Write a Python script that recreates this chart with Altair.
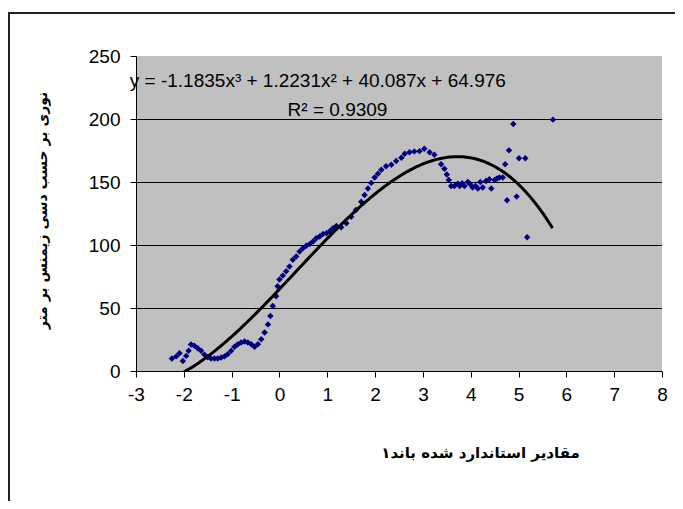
import altair as alt
import pandas as pd

# Scatter data
x_vals = [-2.25, -2.16, -2.09, -2.02, -1.95, -1.90, -1.85, -1.78, -1.71, -1.64,
          -1.57, -1.50, -1.43, -1.36, -1.29, -1.22, -1.15, -1.08, -1.01, -0.94,
          -0.87, -0.80, -0.73, -0.66, -0.59, -0.52, -0.45, -0.38, -0.31, -0.24,
          -0.19, -0.14, -0.07, -0.04, 0.00, 0.07, 0.14, 0.21, 0.28, 0.35,
          0.42, 0.49, 0.56, 0.63, 0.70, 0.77, 0.84, 0.91, 0.98,
          1.05, 1.12, 1.19, 1.29, 1.40, 1.50, 1.60, 1.71, 1.78, 1.85,
          1.92, 1.99, 2.06, 2.13, 2.23, 2.34, 2.44, 2.55, 2.62, 2.72,
          2.82, 2.93, 3.03, 3.14, 3.24,
          3.38, 3.45, 3.50, 3.54, 3.59, 3.66, 3.73, 3.77, 3.82, 3.87,
          3.94, 3.99, 4.04, 4.10, 4.15, 4.20, 4.25, 4.32, 4.39, 4.43,
          4.50, 4.55, 4.60, 4.67, 4.72, 4.76, 4.80, 4.89, 4.96, 5.01,
          5.14, 5.18, 5.72]
y_vals = [10, 11.6, 14, 8, 12, 16, 21, 20, 18, 16,
          13, 11, 10, 10, 10, 10.8, 11.6, 13.4, 16, 19.2,
          21.3, 22.6, 23.4, 22.6, 21.3, 19.2, 21.3, 25.2, 30.5, 37,
          43.6, 51.5, 59.4, 67.3, 72.6, 75.7, 79.1, 83, 88.3, 90.9,
          94.9, 97.5, 99.4, 100.7, 102.8, 105.4, 106.7, 108.8, 109.4,
          111, 113.3, 115.1, 114, 117.3, 122.5, 127.8, 134.3, 139.6, 144.9,
          149.3, 153.5, 156.6, 159.8, 162.5, 163.7, 166.6, 169.3, 172.4, 173.7,
          174.3, 174.5, 176.4, 173.7, 171.7,
          164, 160.6, 156, 151.6, 146.8, 146.8, 148.7, 146.8, 149, 146.8,
          150, 148.2, 145.6, 146.8, 144.8, 150, 145.6, 150.8, 152.1, 144.8,
          151.6, 152.7, 153.5, 153.5, 164, 135.5, 175.1, 196.1, 138.4, 168.8,
          168.8, 106.2, 199.5]

# Trendline coefficients as printed on the chart (c3, c2, c1, c0)
trend_coef = [-1.1835, 1.2231, 40.087, 64.976]
trend_extent = [-2.25, 5.72]

x_ticks = [-3, -2, -1, 0, 1, 2, 3, 4, 5, 6, 7, 8]
y_ticks = [0, 50, 100, 150, 200, 250]
grid_levels = [50, 100, 150, 200]

eq_text = ["y = -1.1835x³ + 1.2231x² + 40.087x + 64.976"]
r2_text = ["R² = 0.9309"]

x_title = "مقادیر استاندارد شده باند۱"
y_title = "نوری بر حسب دسی زیمنس بر متر"

df = pd.DataFrame({"x": x_vals, "y": y_vals})
grid_df = pd.DataFrame({"g": grid_levels})

FONT = "Liberation Sans"
PFONT = "DejaVu Sans"

xscale = alt.Scale(domain=[-3, 8], nice=False, zero=False)
yscale = alt.Scale(domain=[0, 250], nice=False)

xaxis = alt.Axis(values=x_ticks, grid=False, domainColor="black", domainWidth=1,
                 tickColor="black", tickSize=6, labelFont=FONT, labelFontSize=19,
                 labelColor="black", labelPadding=8, title=x_title,
                 labelExpr="'' + datum.value",
                 titleFont=PFONT, titleFontSize=15, titleFontWeight="bold",
                 titleColor="black", titleX=344, titleY=81, titleBaseline="middle",
                 titleAnchor="start", titleAlign="center", labelFlush=False)
yaxis = alt.Axis(values=y_ticks, grid=False, domainColor="black", domainWidth=1,
                 tickColor="black", tickSize=6, labelFont=FONT, labelFontSize=19,
                 labelColor="black", labelPadding=10, title=y_title,
                 labelExpr="'' + datum.value",
                 titleFont=PFONT, titleFontSize=14, titleFontWeight="bold",
                 titleColor="black", titleX=-94, titleY=210 - 56, titleAngle=-90,
                 titleAlign="center", titleBaseline="middle", labelFlush=False)

base = alt.Chart(df)

grid = alt.Chart(grid_df).mark_rule(color="black", strokeWidth=1, yOffset=0.5).encode(
    y=alt.Y("g:Q", scale=yscale, axis=yaxis)
)

points = base.mark_point(shape="diamond", filled=True, color="#000080",
                         size=42, opacity=1).encode(
    x=alt.X("x:Q", scale=xscale, axis=xaxis),
    y=alt.Y("y:Q", scale=yscale, axis=yaxis),
)

c3, c2, c1, c0 = trend_coef
trend = alt.Chart(alt.sequence(trend_extent[0], trend_extent[1] + 0.001, 0.04, as_="x")).transform_calculate(
    y=f"{c3}*pow(datum.x,3) + {c2}*pow(datum.x,2) + {c1}*datum.x + {c0}"
).mark_line(color="black", strokeWidth=3, clip=True).encode(
    x=alt.X("x:Q", scale=xscale),
    y=alt.Y("y:Q", scale=yscale),
)

eq = alt.Chart(pd.DataFrame({"t": eq_text, "x": [-3.13], "y": [230.5]})).mark_text(
    font=FONT, fontSize=19, align="left", baseline="middle", color="black"
).encode(x=alt.X("x:Q", scale=xscale), y=alt.Y("y:Q", scale=yscale), text="t:N")

r2 = alt.Chart(pd.DataFrame({"t": r2_text, "x": [0.17], "y": [207.5]})).mark_text(
    font=FONT, fontSize=19, align="left", baseline="middle", color="black"
).encode(x=alt.X("x:Q", scale=xscale), y=alt.Y("y:Q", scale=yscale), text="t:N")

frame_left = alt.Chart(pd.DataFrame({"a": [0]})).mark_rule(
    color="#222222", strokeWidth=2, clip=False
).encode(x=alt.value(-127), y=alt.value(-43), y2=alt.value(480))
frame_top = alt.Chart(pd.DataFrame({"a": [0]})).mark_rule(
    color="#222222", strokeWidth=2, clip=False
).encode(x=alt.value(-128), x2=alt.value(560), y=alt.value(-43))

chart = alt.layer(grid, points, trend, eq, r2, frame_left, frame_top).properties(
    width=526, height=315,
    autosize=alt.AutoSizeParams(type="none"),
    padding={"left": 128, "top": 48, "right": 13, "bottom": 130},
    background="white",
).configure_view(fill="#C0C0C0", stroke=None)

chart.save("out.html", embed_options={"renderer": "svg", "actions": False})
